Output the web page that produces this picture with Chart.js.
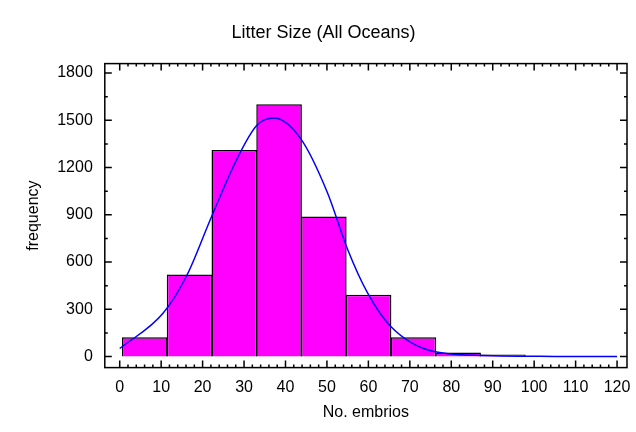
<!DOCTYPE html>
<html><head><meta charset="utf-8">
<script src="https://cdn.jsdelivr.net/npm/chart.js@4"></script>
<style>body{margin:0;background:#fff}</style>
</head><body><canvas id="c" width="636" height="432"></canvas>
<script>
const binCenters=[6.05,16.85,27.65,38.45,49.25,60.05,70.85,81.65,92.45];
const frequencies=[123,521,1312,1602,889,393,123,26,13];
const curveX=[0,10.5,16.3,21.9,28.3,33.1,37.2,43.7,50.1,55,59.8,65.4,75.8,90,105,120];
const curveY=[51,276,521,872,1255,1468,1514,1382,1042,680,404,191,32,5,1,0];
const xTicks=[0,10,20,30,40,50,60,70,80,90,100,110,120];
const yTicks=[0,300,600,900,1200,1500,1800];
const F='Liberation Sans, Arial';
const tickPlugin={id:'tk',afterDraw(ch){const c=ch.ctx,a=ch.chartArea,x=ch.scales.x,y=ch.scales.y;c.save();c.strokeStyle='#000';c.lineWidth=1.5;
c.strokeRect(a.left,a.top,a.right-a.left,a.bottom-a.top);
for(let v=0;v<=120;v+=2){const p=x.getPixelForValue(v),L=v%10===0?7:3;c.beginPath();c.moveTo(p,a.bottom);c.lineTo(p,a.bottom-L);c.moveTo(p,a.top);c.lineTo(p,a.top+L);c.stroke();}
for(let v=0;v<=1800;v+=150){const p=y.getPixelForValue(v),L=v%300===0?7:3;c.beginPath();c.moveTo(a.left,p);c.lineTo(a.left+L,p);c.moveTo(a.right,p);c.lineTo(a.right-L,p);c.stroke();}
c.restore();}};
new Chart(document.getElementById('c'),{
data:{datasets:[
{type:'line',data:curveX.map((v,i)=>({x:v,y:curveY[i]})),borderColor:'#0000ff',borderWidth:1.5,pointRadius:0,cubicInterpolationMode:'monotone',order:0},
{type:'bar',data:binCenters.map((v,i)=>({x:v,y:frequencies[i]})),backgroundColor:'#ff00ff',borderColor:'#000',borderWidth:1.5,barPercentage:1.1,categoryPercentage:1,grouped:false,order:1}
]},
options:{animation:false,responsive:false,devicePixelRatio:1,
layout:{padding:{right:9,top:0,left:20,bottom:6}},
plugins:{legend:{display:false},tooltip:{enabled:false},title:{display:true,text:'Litter Size (All Oceans)',color:'#000',font:{family:F,size:18,weight:'normal'},padding:{top:22,bottom:20}}},
scales:{
x:{type:'linear',offset:false,min:-3.6,max:122.4,grid:{display:false,offset:false},border:{display:false},
afterBuildTicks(s){s.ticks=xTicks.map(v=>({value:v}));},
ticks:{color:'#000',font:{family:F,size:16},autoSkip:false,maxRotation:0,padding:2,callback:v=>String(v)},
title:{display:true,text:'No. embrios',color:'#000',font:{family:F,size:16},padding:{top:4}}},
y:{min:-70,max:1860,grid:{display:false},border:{display:false},
afterBuildTicks(s){s.ticks=yTicks.map(v=>({value:v}));},
ticks:{color:'#000',font:{family:F,size:16},padding:4,callback:v=>String(v)},
title:{display:true,text:'frequency',color:'#000',font:{family:F,size:16},padding:{bottom:10}}}
}},
plugins:[tickPlugin]
});
</script></body></html>
